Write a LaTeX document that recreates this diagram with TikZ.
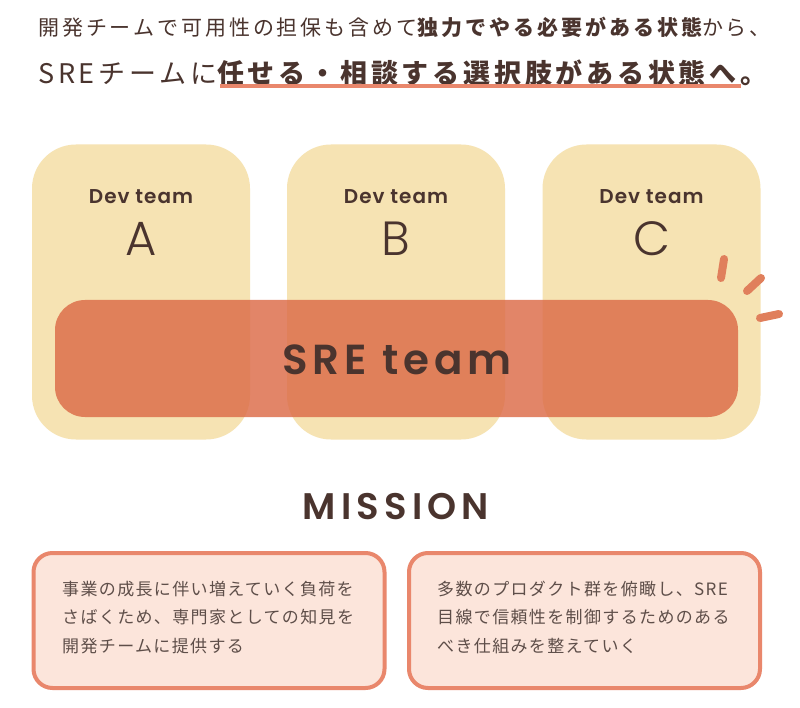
\documentclass[tikz,border=0pt]{standalone}
\usepackage{fontspec}
\newfontfamily\jpA[LetterSpace=14]{Noto Sans CJK JP}
\newfontfamily\jpB[LetterSpace=14]{Noto Sans CJK JP}
\newfontfamily\jpC[LetterSpace=8]{Noto Sans CJK JP}
\newfontfamily\popS[LetterSpace=5]{Poppins SemiBold}
\newfontfamily\popM[LetterSpace=12]{Poppins SemiBold}
\newfontfamily\popL[LetterSpace=14]{Poppins SemiBold}
\newfontfamily\popLight{Poppins Light}
\definecolor{ink}{HTML}{4A342E}
\definecolor{inksoft}{HTML}{5E4E49}
\definecolor{devfill}{HTML}{F6E3B3}
\definecolor{srefill}{HTML}{DC6B47}
\definecolor{accent}{HTML}{E07F5C}
\definecolor{misborder}{HTML}{E9876C}
\definecolor{misfill}{HTML}{FCE5DB}
\tikzset{
  devbox/.style={fill=devfill, draw=none, rounded corners=44pt, minimum width=218pt, minimum height=295pt, inner sep=0pt},
  srebox/.style={fill=srefill, fill opacity=0.82, draw=none, rounded corners=30pt, minimum width=683pt, minimum height=117pt, inner sep=0pt},
  devlabel/.style={text=ink, font=\popS\fontsize{20}{24}\selectfont, inner sep=0pt},
  devletter/.style={text=ink, font=\popLight\fontsize{48}{50}\selectfont, inner sep=0pt},
  misbox/.style={fill=misfill, draw=misborder, line width=4pt, rounded corners=19pt, minimum width=351pt, minimum height=135pt, inner sep=0pt},
  mistext/.style={text=inksoft, font=\jpC\fontsize{17}{28.3}\selectfont, align=left, anchor=north west, inner sep=0pt},
  spark/.style={draw=accent, line width=8pt, line cap=round},
}
\begin{document}
\begin{tikzpicture}[x=1pt,y=-1pt]
\useasboundingbox[fill=white] (0,0) rectangle (800,708);

% heading
\node[anchor=west, inner sep=0pt, text=ink, font=\jpA\fontsize{21}{24}\selectfont] (head1) at (38,27)
  {開発チームで可用性の担保も含めて{\bfseries 独力でやる必要がある状態}から、};
\node[anchor=west, inner sep=0pt, text=ink, font=\jpB\fontsize{27}{30}\selectfont] (head2) at (38,73)
  {SREチームに{\bfseries 任せる・相談する選択肢がある状態へ。}};
\coordinate (ulA) at (220,86);
\coordinate (ulB) at (741,86);
\draw[draw=misborder, line width=4pt] (ulA) -- (ulB);

% dev teams
\node[devbox] (devA) at (141,292) {};
\node[devbox] (devB) at (396,292) {};
\node[devbox] (devC) at (651.5,292) {};
\node[devlabel] (devAl) at (141,197) {Dev team};
\node[devlabel] (devBl) at (396,197) {Dev team};
\node[devlabel] (devCl) at (651.5,197) {Dev team};
\node[devletter] (devAx) at (141,239) {A};
\node[devletter] (devBx) at (396,239) {B};
\node[devletter] (devCx) at (651.5,239) {C};

% SRE team
\node[srebox] (sre) at (396.5,358.5) {};
\node[text=ink, font=\popM\fontsize{42}{46}\selectfont, inner sep=0pt] (srel) at (397,360) {SRE team};

% sparks
\coordinate (s1a) at (724,259); \coordinate (s1b) at (721,278);
\coordinate (s2a) at (761,278); \coordinate (s2b) at (747,291);
\coordinate (s3a) at (760,318); \coordinate (s3b) at (779,314);
\draw[spark] (s1a) -- (s1b);
\draw[spark] (s2a) -- (s2b);
\draw[spark] (s3a) -- (s3b);

% mission
\node[text=ink, font=\popL\fontsize{37}{40}\selectfont, inner sep=0pt] (mission) at (396,507) {MISSION};
\node[misbox] (misL) at (209,620.5) {};
\node[misbox] (misR) at (584.5,620.5) {};
\node[mistext] (misLt) at (62,581) {事業の成長に伴い増えていく負荷を\\さばくため、専門家としての知見を\\開発チームに提供する};
\node[mistext] (misRt) at (437,581) {多数のプロダクト群を俯瞰し、SRE\\目線で信頼性を制御するためのある\\べき仕組みを整えていく};
\end{tikzpicture}
\end{document}
